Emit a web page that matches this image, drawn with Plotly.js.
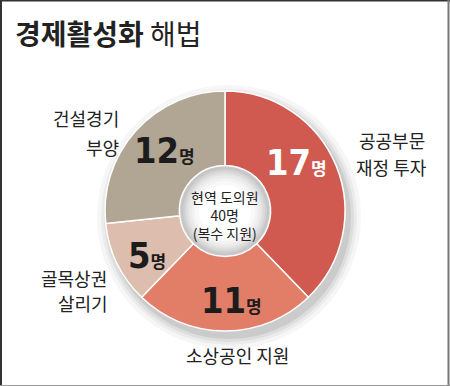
<!DOCTYPE html>
<html>
<head>
<meta charset="utf-8">
<script src="https://cdn.plot.ly/plotly-3.0.1.min.js"></script>
<style>html,body{margin:0;padding:0;background:#fff;}#chart{width:450px;height:386px;}</style>
</head>
<body>
<div id="chart"></div>
<script>
// ---- data ----
const categories = ['공공부문 재정 투자', '소상공인 지원', '골목상권 살리기', '건설경기 부양'];
const labelLines = [['공공부문', '재정 투자'], ['소상공인 지원'], ['골목상권', '살리기'], ['건설경기', '부양']];
const values = [17, 11, 5, 12];
const unit = '명';
const titleBold = '경제활성화';
const titleRegular = '해법';
const centerLines = ['현역 도의원', '40명', '(복수 지원)'];

// ---- styles / layout ----
const W = 450, H = 386;
const colors = ['#d05a4f', '#e27d68', '#ddbdad', '#b1a594'];
const valueColors = ['#ffffff', '#1c1c1c', '#1c1c1c', '#1c1c1c'];
const cx = 225, cy = 211, R = 120, holeFrac = 0.38;
const valuePos = [[296, 163], [231, 300], [147, 255], [164, 150]];
const labelPos = [
  [[392, 140, 'center'], [391, 167, 'center']],
  [[238, 355, 'center']],
  [[109, 278, 'right'], [110, 303, 'right']],
  [[121, 118, 'right'], [121, 147, 'right']]
];
const KR = '"Noto Sans CJK KR", "Noto Sans", sans-serif';
const NUM = '"Liberation Sans Narrow", "DejaVu Sans Condensed", "Liberation Sans", sans-serif';

const px = x => x / W;
const py = y => 1 - y / H;

const trace = {
  type: 'pie',
  labels: categories,
  values: values,
  sort: false,
  direction: 'clockwise',
  rotation: 0,
  hole: holeFrac,
  textinfo: 'none',
  hoverinfo: 'label+value',
  showlegend: false,
  marker: {colors: colors, line: {color: '#ffffff', width: 1.5}},
  domain: {x: [px(cx - R), px(cx + R)], y: [py(cy + R), py(cy - R)]}
};

const shapes = [];
// drop shadow
[[132, 0.035], [128, 0.045], [125, 0.06], [122, 0.08]].forEach(([r, a]) => {
  shapes.push({type: 'circle', xref: 'paper', yref: 'paper', layer: 'below',
    x0: px(cx + 4 - r), x1: px(cx + 4 + r), y0: py(cy + 6 + r), y1: py(cy + 6 - r),
    fillcolor: 'rgba(0,0,0,' + a + ')', line: {width: 0}});
});
// hole gradient
[[44, '#c6c6c6'], [42, '#d0d0d0'], [40, '#dadada'], [38, '#e3e3e3'], [36, '#ebebeb'], [33, '#f3f3f3'], [30, '#f9f9f9'], [26, '#ffffff']].forEach(([r, c]) => {
  shapes.push({type: 'circle', xref: 'paper', yref: 'paper', layer: 'above',
    x0: px(cx - r), x1: px(cx + r), y0: py(cy + r), y1: py(cy - r),
    fillcolor: c, line: {width: 0}});
});
// frame
shapes.push({type: 'line', xref: 'paper', yref: 'paper', x0: 0, x1: 1, y0: py(0.75), y1: py(0.75), line: {color: '#333', width: 1.5}});
shapes.push({type: 'line', xref: 'paper', yref: 'paper', x0: px(1), x1: px(1), y0: 0, y1: 1, line: {color: '#333', width: 2}});
shapes.push({type: 'line', xref: 'paper', yref: 'paper', x0: px(448.5), x1: px(448.5), y0: 0, y1: 1, line: {color: '#777', width: 2}});
shapes.push({type: 'line', xref: 'paper', yref: 'paper', x0: 0, x1: 1, y0: py(385.5), y1: py(385.5), line: {color: '#999', width: 1}});

const annotations = [];
annotations.push({xref: 'paper', yref: 'paper', x: px(13), y: py(33), xanchor: 'left', yanchor: 'middle', showarrow: false,
  text: '<b>' + titleBold + '</b> ' + titleRegular, font: {family: KR, size: 28, color: '#222'}});

values.forEach((v, i) => {
  annotations.push({xref: 'paper', yref: 'paper', x: px(valuePos[i][0]), y: py(valuePos[i][1]), xanchor: 'center', yanchor: 'middle', showarrow: false,
    text: '<b>' + v + '</b><span style="font-family:' + KR.replace(/"/g, "'") + ';font-size:17px"><b>' + unit + '</b></span>',
    font: {family: NUM, size: 36, color: valueColors[i]}});
  labelLines[i].forEach((t, j) => {
    const p = labelPos[i][j];
    annotations.push({xref: 'paper', yref: 'paper', x: px(p[0]), y: py(p[1]), xanchor: p[2], yanchor: 'middle', showarrow: false,
      text: t, font: {family: KR, size: 18, color: '#222'}});
  });
});
annotations.push({xref: 'paper', yref: 'paper', x: px(cx), y: py(215), xanchor: 'center', yanchor: 'middle', showarrow: false,
  text: centerLines.join('<br>'), align: 'center', font: {family: KR, size: 14, color: '#222'}});

const layout = {
  width: W, height: H,
  margin: {l: 0, r: 0, t: 0, b: 0},
  paper_bgcolor: '#ffffff',
  plot_bgcolor: '#ffffff',
  showlegend: false,
  shapes: shapes,
  annotations: annotations
};

Plotly.newPlot('chart', [trace], layout, {displayModeBar: false, staticPlot: true});
</script>
</body>
</html>
